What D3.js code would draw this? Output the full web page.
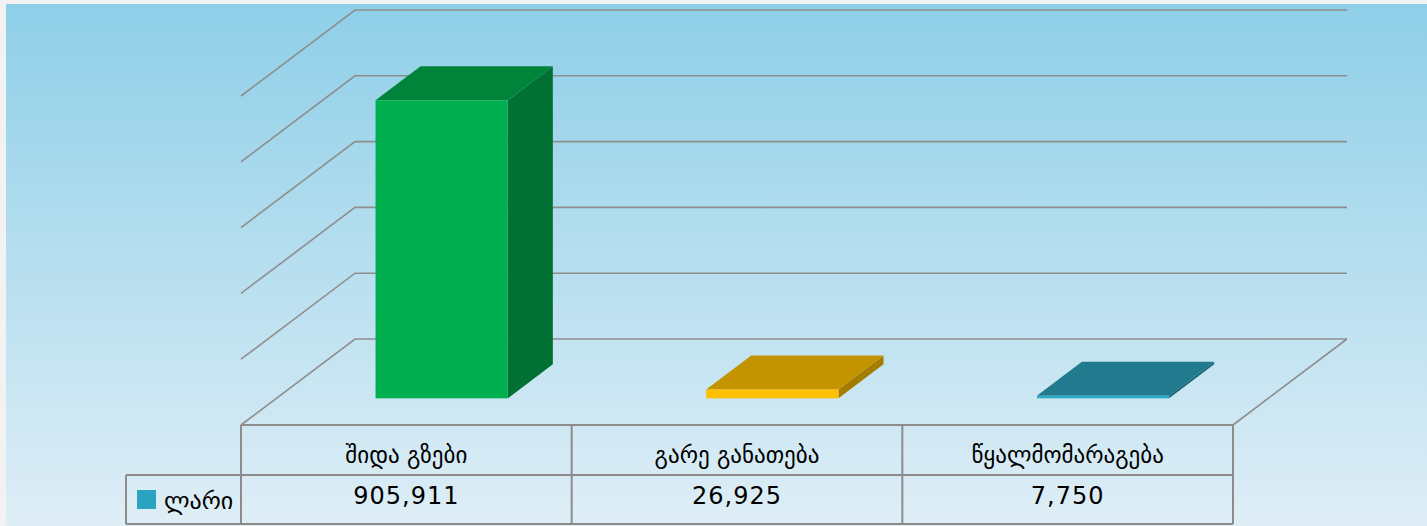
<!DOCTYPE html>
<html><head><meta charset="utf-8">
<script src="https://cdn.jsdelivr.net/npm/d3@7/dist/d3.min.js"></script>
<style>html,body{margin:0;padding:0;background:#f2f2f2;overflow:hidden}</style>
</head><body>
<svg id="c" width="1427" height="526"></svg>
<script>
const categories = ["შიდა გზები", "გარე განათება", "წყალმომარაგება"];
const values = [905911, 26925, 7750];
const seriesName = "ლარი";
const tickValues = [0, 200000, 400000, 600000, 800000, 1000000];
const frontColors = ["#00b050", "#ffc000", "#2cabc8"];
const topColors = ["#00843a", "#c49400", "#217a8e"];
const sideColors = ["#007033", "#a37c00", "#1b6676"];
const legendColor = "#2aa3c0";

const svg = d3.select("#c");
const defs = svg.append("defs");
const g = defs.append("linearGradient").attr("id","bg").attr("x1",0).attr("y1",0).attr("x2",0).attr("y2",1);
g.append("stop").attr("offset","0%").attr("stop-color","#8ecfe8");
g.append("stop").attr("offset","100%").attr("stop-color","#dfeef6");
svg.append("rect").attr("x",6).attr("y",4).attr("width",1421).attr("height",522).attr("fill","url(#bg)");

const x0 = 241, x1 = 1233, floorY = 425, ddx = 114, ddy = -86;
const y = d3.scaleLinear().domain([0, 1000000]).range([floorY, floorY - 329]);
const xb = d3.scaleBand().domain(categories).range([x0, x1]).padding(0);
const gridStroke = "#8e8e8e";

// gridlines: side wall + back wall
const grid = svg.append("g").attr("fill","none").attr("stroke",gridStroke).attr("stroke-width",1.6);
tickValues.forEach(t => {
  const yf = y(t), yb = y(t) + ddy;
  grid.append("path").attr("d", `M${x0},${yf}L${x0+ddx},${yb}L${x1+ddx},${yb}`);
});
// floor right edge
grid.append("path").attr("d", `M${x1+ddx},${y(0)+ddy}L${x1},${y(0)}`);

// bars
const z0 = 0.31, z1 = 0.705;
const bw = xb.bandwidth() * 0.4;
const bars = svg.append("g");
categories.forEach((c, i) => {
  const bx = xb(c) + (xb.bandwidth() - bw) / 2;
  const yT = y(values[i]), yB = y(0);
  const fx = bx + z0*ddx, fyT = yT + z0*ddy, fyB = yB + z0*ddy;
  const bx2 = bx + z1*ddx, byT = yT + z1*ddy, byB = yB + z1*ddy;
  bars.append("path").attr("fill", sideColors[i])
    .attr("d", `M${fx+bw},${fyT}L${bx2+bw},${byT}L${bx2+bw},${byB}L${fx+bw},${fyB}Z`);
  bars.append("path").attr("fill", topColors[i])
    .attr("d", `M${fx},${fyT}L${fx+bw},${fyT}L${bx2+bw},${byT}L${bx2},${byT}Z`);
  bars.append("rect").attr("fill", frontColors[i])
    .attr("x", fx).attr("y", fyT).attr("width", bw).attr("height", Math.max(0, fyB - fyT));
});

// data table
const tStroke = "#8c8c8c";
const tab = svg.append("g").attr("fill","none").attr("stroke",tStroke).attr("stroke-width",2);
const rowMid = 475, rowBot = 524, legX = 126;
tab.append("path").attr("d", `M${x0},${floorY}L${x1},${floorY}`);
tab.append("path").attr("d", `M${legX},${rowMid}L${x1},${rowMid}`);
tab.append("path").attr("d", `M${legX},${rowBot}L${x1},${rowBot}`);
tab.append("path").attr("d", `M${legX},${rowMid}L${legX},${rowBot}`);
[x0, ...categories.map(c => xb(c) + xb.bandwidth())].forEach(xx => {
  tab.append("path").attr("d", `M${xx},${floorY}L${xx},${rowBot}`);
});

const txt = svg.append("g").attr("font-family","DejaVu Sans, sans-serif").attr("fill","#000").attr("text-anchor","middle");
categories.forEach((c, i) => {
  const cx = xb(c) + xb.bandwidth()/2;
  txt.append("text").attr("x", cx).attr("y", 463).attr("font-size", 23).text(c);
  txt.append("text").attr("x", cx).attr("y", 504).attr("font-size", 24).attr("letter-spacing", 1)
    .text(d3.format(",")(values[i]));
});
// legend
svg.append("rect").attr("x",137).attr("y",490).attr("width",19).attr("height",19).attr("fill",legendColor);
svg.append("text").attr("x",164).attr("y",509).attr("font-family","DejaVu Sans, sans-serif").attr("font-size",24).attr("fill","#000").text(seriesName);
</script>
</body></html>
